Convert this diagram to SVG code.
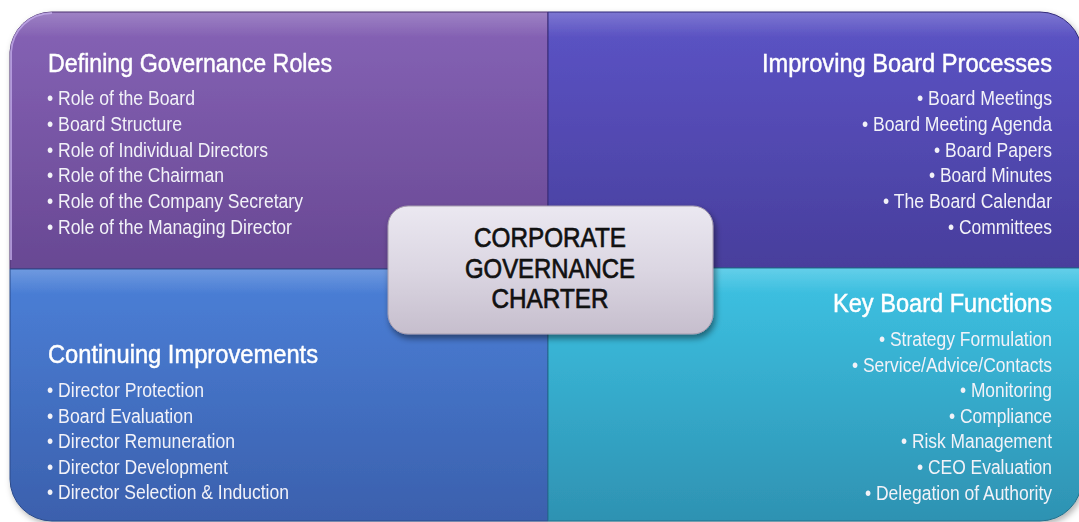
<svg xmlns="http://www.w3.org/2000/svg" width="1079" height="522" viewBox="0 0 1079 522">
<style>
.t{font-family:"Liberation Sans Narrow","Liberation Sans",Arial,sans-serif;fill:#ffffff}
.h{font-size:25px;stroke:#ffffff;stroke-width:0.45}
.i{font-size:20px;fill:#f2f2f8}
.e{text-anchor:end}
.c{font-family:"Liberation Sans Narrow","Liberation Sans",Arial,sans-serif;font-size:28px;fill:#111111;stroke:#111111;stroke-width:0.7;text-anchor:middle}
</style>
<defs>
<linearGradient id="gTL" x1="0" y1="0" x2="0" y2="1"><stop offset="0" stop-color="#8663b6"/><stop offset="1" stop-color="#684893"/></linearGradient>
<linearGradient id="gTR" x1="0" y1="0" x2="0" y2="1"><stop offset="0" stop-color="#5c54c6"/><stop offset="1" stop-color="#483e9c"/></linearGradient>
<linearGradient id="gBL" x1="0" y1="0" x2="0" y2="1"><stop offset="0" stop-color="#4b80d8"/><stop offset="1" stop-color="#3b60ad"/></linearGradient>
<linearGradient id="gBR" x1="0" y1="0" x2="0" y2="1"><stop offset="0" stop-color="#3dc3e4"/><stop offset="1" stop-color="#2e92b2"/></linearGradient>
<linearGradient id="gC" x1="0" y1="0" x2="0" y2="1"><stop offset="0" stop-color="#ebe8f1"/><stop offset="0.5" stop-color="#dbd6e2"/><stop offset="1" stop-color="#c6becd"/></linearGradient>
<linearGradient id="shine" x1="0" y1="0" x2="0" y2="1"><stop offset="0" stop-color="#ffffff" stop-opacity="0.2"/><stop offset="0.1" stop-color="#ffffff" stop-opacity="0"/></linearGradient>
<filter id="sh" x="-5%" y="-5%" width="110%" height="115%"><feDropShadow dx="2" dy="3" stdDeviation="3" flood-color="#000" flood-opacity="0.3"/></filter>
<filter id="sh2" x="-10%" y="-10%" width="120%" height="130%"><feDropShadow dx="2" dy="4" stdDeviation="3" flood-color="#000" flood-opacity="0.45"/></filter>
</defs>
<rect width="1079" height="522" fill="#ffffff"/>
<g filter="url(#sh)">
<g id="node-defining">
<path d="M10,52 A42,42 0 0 1 52,12 H548 V269 H10 Z" fill="url(#gTL)"/>
<path d="M10,52 A42,42 0 0 1 52,12 H548 V269 H10 Z" fill="url(#shine)" stroke="#4c3370" stroke-width="1"/>
<path d="M11,260 V52 A41,41 0 0 1 52,13" fill="none" stroke="#c9b3f0" stroke-width="2" opacity="0.7"/>
<text class="t h" x="48" y="72" textLength="284" lengthAdjust="spacingAndGlyphs">Defining Governance Roles</text>
<text class="t i" x="47" y="105" textLength="148" lengthAdjust="spacingAndGlyphs">• Role of the Board</text>
<text class="t i" x="47" y="131" textLength="135" lengthAdjust="spacingAndGlyphs">• Board Structure</text>
<text class="t i" x="47" y="157" textLength="221" lengthAdjust="spacingAndGlyphs">• Role of Individual Directors</text>
<text class="t i" x="47" y="182" textLength="177" lengthAdjust="spacingAndGlyphs">• Role of the Chairman</text>
<text class="t i" x="47" y="208" textLength="256" lengthAdjust="spacingAndGlyphs">• Role of the Company Secretary</text>
<text class="t i" x="47" y="234" textLength="245" lengthAdjust="spacingAndGlyphs">• Role of the Managing Director</text>
</g>
<g id="node-improving">
<path d="M548,12 H1040 A42,42 0 0 1 1082,54 V268 H548 Z" fill="url(#gTR)"/>
<path d="M548,12 H1040 A42,42 0 0 1 1082,54 V268 H548 Z" fill="url(#shine)" stroke="#332a7a" stroke-width="1"/>
<text class="t h e" x="1052" y="72" textLength="290" lengthAdjust="spacingAndGlyphs">Improving Board Processes</text>
<text class="t i e" x="1052" y="105" textLength="135" lengthAdjust="spacingAndGlyphs">• Board Meetings</text>
<text class="t i e" x="1052" y="131" textLength="190" lengthAdjust="spacingAndGlyphs">• Board Meeting Agenda</text>
<text class="t i e" x="1052" y="157" textLength="118" lengthAdjust="spacingAndGlyphs">• Board Papers</text>
<text class="t i e" x="1052" y="182" textLength="123" lengthAdjust="spacingAndGlyphs">• Board Minutes</text>
<text class="t i e" x="1052" y="208" textLength="169" lengthAdjust="spacingAndGlyphs">• The Board Calendar</text>
<text class="t i e" x="1052" y="234" textLength="104" lengthAdjust="spacingAndGlyphs">• Committees</text>
</g>
<g id="node-continuing">
<path d="M10,269 H548 V521 H52 A42,42 0 0 1 10,479 Z" fill="url(#gBL)"/>
<path d="M10,269 H548 V521 H52 A42,42 0 0 1 10,479 Z" fill="url(#shine)" stroke="#2a4a8a" stroke-width="1"/>
<text class="t h" x="48" y="363" textLength="270" lengthAdjust="spacingAndGlyphs">Continuing Improvements</text>
<text class="t i" x="47" y="397" textLength="157" lengthAdjust="spacingAndGlyphs">• Director Protection</text>
<text class="t i" x="47" y="423" textLength="146" lengthAdjust="spacingAndGlyphs">• Board Evaluation</text>
<text class="t i" x="47" y="448" textLength="188" lengthAdjust="spacingAndGlyphs">• Director Remuneration</text>
<text class="t i" x="47" y="474" textLength="181" lengthAdjust="spacingAndGlyphs">• Director Development</text>
<text class="t i" x="47" y="499" textLength="242" lengthAdjust="spacingAndGlyphs">• Director Selection &amp; Induction</text>
</g>
<g id="node-functions">
<path d="M548,268 H1082 V479 A42,42 0 0 1 1040,521 H548 Z" fill="url(#gBR)"/>
<path d="M548,268 H1082 V479 A42,42 0 0 1 1040,521 H548 Z" fill="url(#shine)" stroke="#22708c" stroke-width="1"/>
<text class="t h e" x="1052" y="312" textLength="219" lengthAdjust="spacingAndGlyphs">Key Board Functions</text>
<text class="t i e" x="1052" y="346" textLength="173" lengthAdjust="spacingAndGlyphs">• Strategy Formulation</text>
<text class="t i e" x="1052" y="372" textLength="200" lengthAdjust="spacingAndGlyphs">• Service/Advice/Contacts</text>
<text class="t i e" x="1052" y="397" textLength="92" lengthAdjust="spacingAndGlyphs">• Monitoring</text>
<text class="t i e" x="1052" y="423" textLength="103" lengthAdjust="spacingAndGlyphs">• Compliance</text>
<text class="t i e" x="1052" y="448" textLength="151" lengthAdjust="spacingAndGlyphs">• Risk Management</text>
<text class="t i e" x="1052" y="474" textLength="135" lengthAdjust="spacingAndGlyphs">• CEO Evaluation</text>
<text class="t i e" x="1052" y="500" textLength="187" lengthAdjust="spacingAndGlyphs">• Delegation of Authority</text>
</g>
</g>
<g id="node-center">
<rect x="388" y="206" width="325" height="128" rx="20" ry="20" fill="url(#gC)" stroke="#a59cae" stroke-width="1" filter="url(#sh2)"/>
<text class="c" x="550" y="247" textLength="152" lengthAdjust="spacingAndGlyphs">CORPORATE</text>
<text class="c" x="550" y="278" textLength="170" lengthAdjust="spacingAndGlyphs">GOVERNANCE</text>
<text class="c" x="550" y="308" textLength="117" lengthAdjust="spacingAndGlyphs">CHARTER</text>
</g>
<g id="connectors"></g>
</svg>
